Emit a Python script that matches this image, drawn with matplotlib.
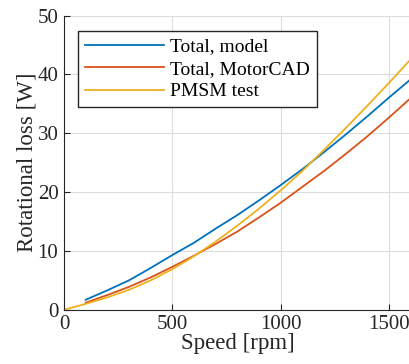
import matplotlib.pyplot as plt

plt.rcParams['font.family'] = ['Liberation Serif', 'DejaVu Serif']

speed = [100, 200, 300, 400, 500, 600, 700, 800, 900, 1000, 1100, 1200, 1300, 1400, 1500, 1600]
loss_model = [1.7, 3.3, 5.0, 7.1, 9.3, 11.4, 13.8, 16.1, 18.6, 21.2, 23.9, 26.8, 29.8, 32.9, 36.1, 39.2]
loss_motorcad = [1.2, 2.5, 3.9, 5.5, 7.3, 9.2, 11.2, 13.3, 15.7, 18.2, 20.9, 23.6, 26.5, 29.5, 32.7, 36.0]
speed_test = [0, 50, 100, 200, 300, 400, 500, 600, 700, 800, 900, 1000, 1100, 1200, 1300, 1400, 1500, 1600]
loss_test = [0, 0.5, 1.0, 2.1, 3.4, 5.0, 6.9, 9.1, 11.6, 14.3, 17.2, 20.3, 23.6, 27.2, 30.9, 34.7, 38.6, 42.6]

fig = plt.figure(figsize=(4.10, 3.64), dpi=100)
ax = fig.add_axes([0.156, 0.149, 0.846, 0.808])

ax.plot(speed, loss_model, color='#0072BD', lw=1.3, label='Total, model')
ax.plot(speed, loss_motorcad, color='#D95319', lw=1.3, label='Total, MotorCAD')
ax.plot(speed_test, loss_test, color='#EDB120', lw=1.3, label='PMSM test')

ax.set_xlim(0, 1600)
ax.set_ylim(0, 50)
ax.set_xticks([0, 500, 1000, 1500])
ax.set_yticks([0, 10, 20, 30, 40, 50])
ax.grid(True, color='#dcdcdc', lw=0.8)
ax.set_axisbelow(True)
for s in ['top', 'right']:
    ax.spines[s].set_visible(False)
ax.spines['left'].set_color('#262626')
ax.spines['bottom'].set_color('#262626')
ax.tick_params(direction='in', length=4, labelsize=15, colors='#262626')
ax.tick_params(axis='x', pad=4)
ax.tick_params(axis='y', pad=4)

ax.set_xlabel('Speed [rpm]', fontsize=16.5, color='#262626', labelpad=-1)
ax.set_ylabel('Rotational loss [W]', fontsize=16.5, color='#262626', labelpad=0)

leg = ax.legend(loc='upper left', bbox_to_anchor=(0.04, 0.948), borderaxespad=0, fontsize=14,
                fancybox=False, framealpha=1, edgecolor='#262626', handlelength=4.1,
                borderpad=0.35, labelspacing=0.25, handletextpad=0.3)
leg.get_frame().set_linewidth(1.0)

fig.savefig('out.png', dpi=100)
